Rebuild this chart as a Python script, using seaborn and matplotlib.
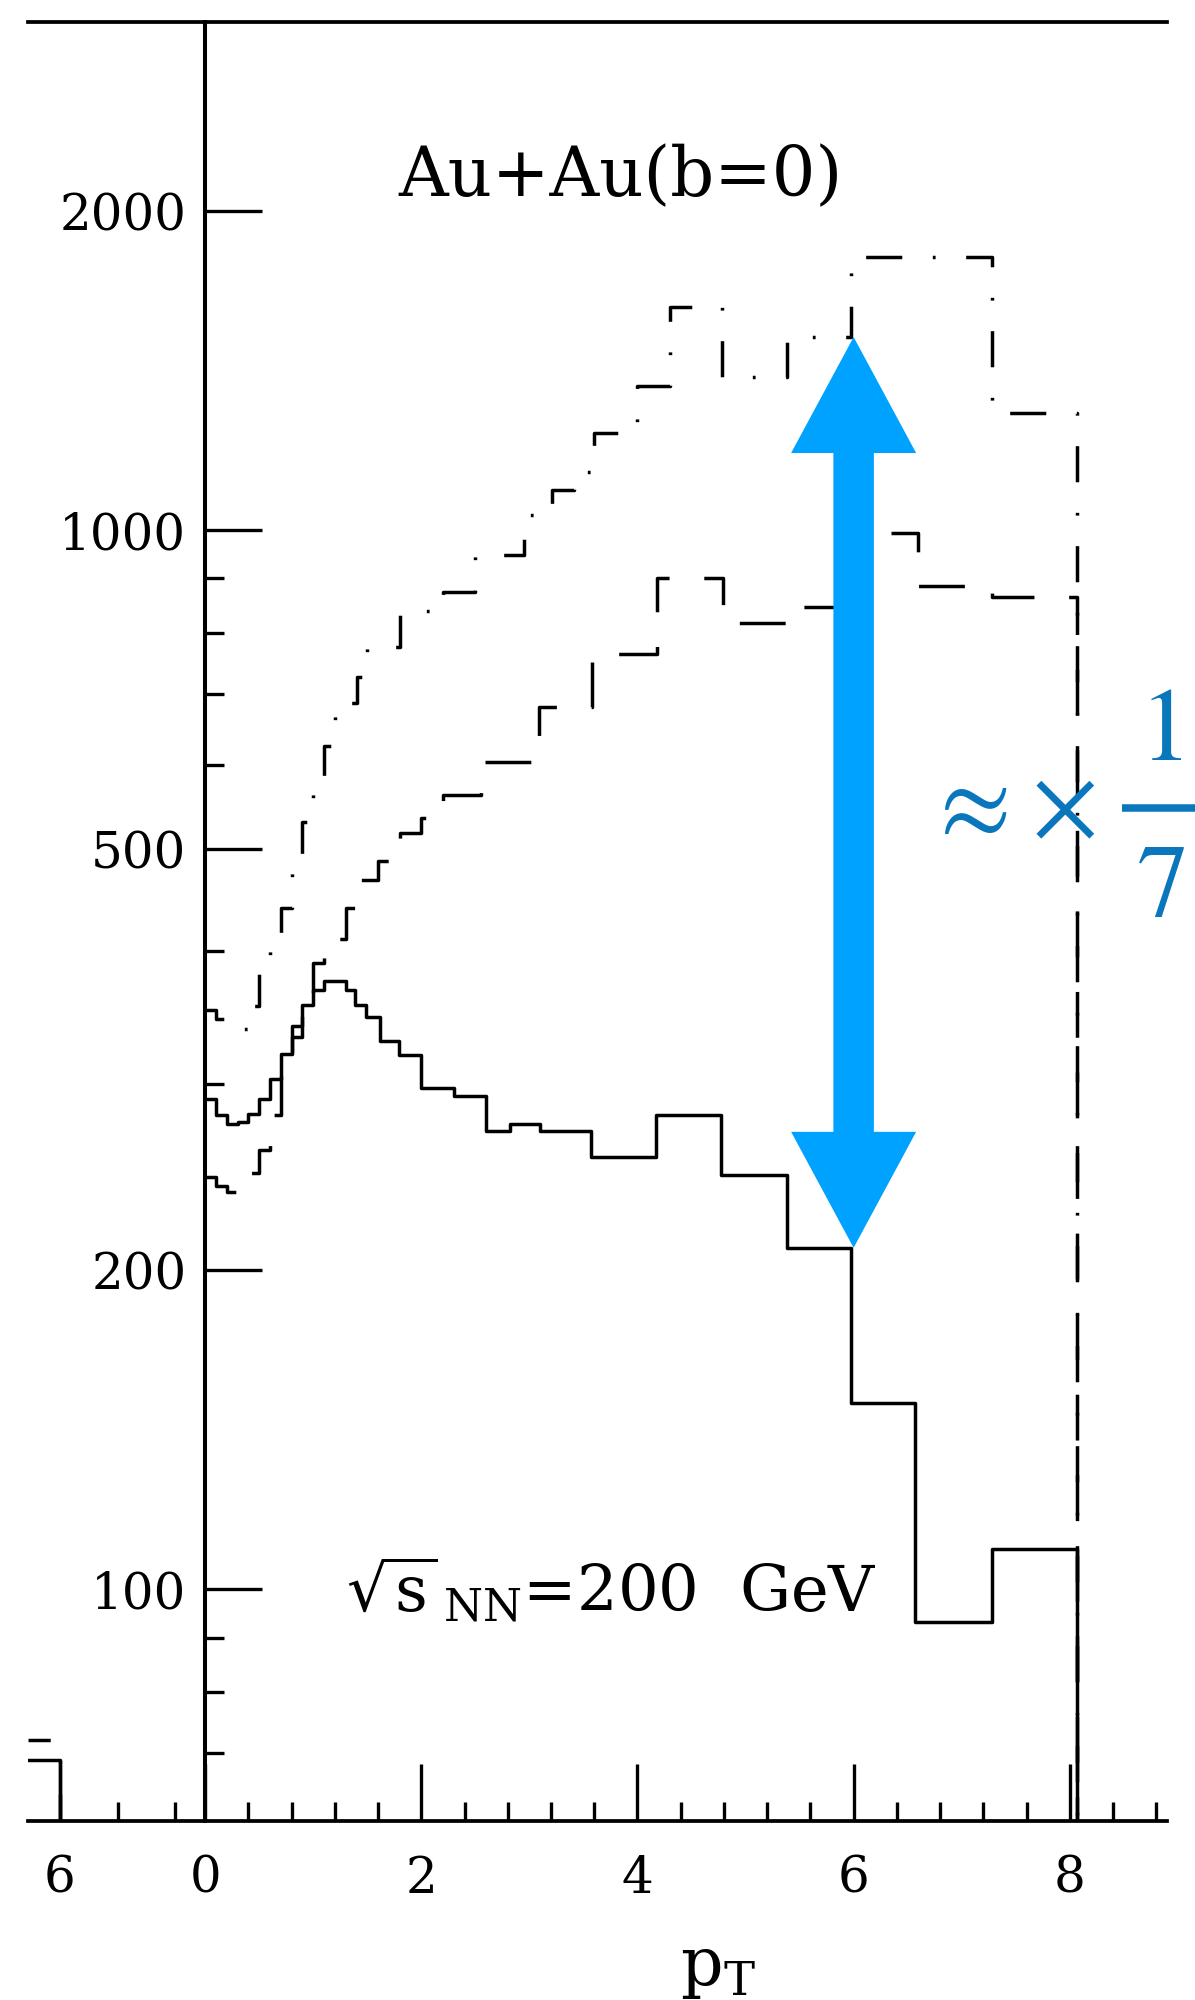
import matplotlib
matplotlib.use("Agg")
import matplotlib.pyplot as plt
from matplotlib.lines import Line2D
import numpy as np
import pandas as pd
import seaborn as sns
from matplotlib.patches import FancyArrowPatch, ArrowStyle
from matplotlib.ticker import FixedLocator, FixedFormatter, NullFormatter

# ---------------------------------------------------------------------------
# Histogram bin edges (p_T) and contents
# ---------------------------------------------------------------------------
solid_edges = [0.0, 0.1, 0.2, 0.3, 0.4, 0.5, 0.6, 0.7, 0.8, 0.9, 1.0, 1.1, 1.3,
               1.39, 1.49, 1.62, 1.79, 2.0, 2.3, 2.6, 2.82, 3.1, 3.57, 4.17,
               4.77, 5.38, 5.98, 6.57, 7.28, 8.07]
solid_vals = [290, 280, 275, 276, 281, 290, 303, 320, 340, 356, 368, 375,
              368, 356, 347, 329, 319, 297, 292, 271, 275, 271, 256, 280,
              246, 210, 150, 93, 109]

dashed_edges = [0.0, 0.1, 0.2, 0.3, 0.4, 0.5, 0.6, 0.7, 0.8, 0.9, 1.0, 1.1, 1.3,
                1.4, 1.6, 1.8, 2.0, 2.2, 2.55, 3.09, 3.58, 4.18, 4.79, 5.38,
                5.98, 6.6, 7.28, 8.07]
dashed_vals = [245, 240, 237, 240, 247, 260, 280, 305, 332, 360, 390, 411,
               440, 467, 487, 518, 535, 562, 604, 681, 764, 901, 817, 846,
               994, 886, 865]

dashdot_edges = [0.0, 0.1, 0.2, 0.3, 0.4, 0.5, 0.6, 0.7, 0.8, 0.9, 1.0, 1.1, 1.2,
                 1.4, 1.5, 1.8, 2.2, 2.5, 2.95, 3.21, 3.41, 3.6, 4.0, 4.3, 4.78,
                 5.38, 5.98, 7.28, 8.07]
dashdot_vals = [352, 345, 338, 338, 355, 385, 410, 440, 490, 530, 580, 625,
                686, 727, 775, 838, 874, 947, 1033, 1091, 1135, 1235, 1368,
                1625, 1394, 1521, 1811, 1289]

# tail of the neighbouring panel visible at the left edge
left_edges = [-1.64, -1.348]
left_solid_vals = [69]
left_dashdot_vals = [72]

# axis ticks
x_major_ticks = [-1.348, 0, 2, 4, 6, 8]
x_major_labels = ["6", "0", "2", "4", "6", "8"]
x_minor_ticks = [-0.81, -0.277] + [0.4 * k for k in range(1, 23) if k % 5 != 0]
y_major_ticks = [100, 200, 500, 1000, 2000]
y_major_labels = ["100", "200", "500", "1000", "2000"]
y_minor_ticks = [70, 80, 90, 300, 400, 600, 700, 800, 900]

# suppression arrow drawn between the two curves at this p_T
arrow_pt = 6.0
arrow_low = solid_vals[solid_edges.index(5.38)]
arrow_high = dashdot_vals[dashdot_edges.index(5.38)]

Y_MIN, Y_MAX = 60.4, 3017
X_MIN, X_MAX = -1.64, 8.9

# ---------------------------------------------------------------------------
sns.set_style("white")
plt.rcParams["font.family"] = ["DejaVu Serif"]
plt.rcParams["mathtext.fontset"] = "dejavuserif"
plt.rcParams["lines.scale_dashes"] = False

fig = plt.figure(figsize=(11.95, 20), dpi=100)
fig.patch.set_facecolor("white")
ax = fig.add_axes([0.0234, 0.0895, 0.9532, 0.8995])
ax.set_facecolor("white")
ax.set_yscale("log")


def step_frame(edges, vals, floor=Y_MIN):
    x = list(edges) + [edges[-1]]
    y = list(vals) + [vals[-1], floor * 0.5]
    return pd.DataFrame({"pt": x, "n": y})


LW = 2.5
line_kw = dict(x="pt", y="n", estimator=None, sort=False,
               drawstyle="steps-post", color="black", lw=LW, ax=ax)

sns.lineplot(data=step_frame(solid_edges, solid_vals), linestyle="-", **line_kw)
sns.lineplot(data=step_frame(dashed_edges, dashed_vals),
             linestyle=(0, (33, 25)), **line_kw)
sns.lineplot(data=step_frame(dashdot_edges, dashdot_vals),
             linestyle=(6, (26, 22, 2, 22)), **line_kw)

sns.lineplot(data=step_frame(left_edges, left_solid_vals), linestyle="-", **line_kw)
sns.lineplot(data=step_frame(left_edges, left_dashdot_vals),
             linestyle=(10, (26, 22, 2, 22)), **line_kw)

ax.set_xlim(X_MIN, X_MAX)
ax.set_ylim(Y_MIN, Y_MAX)

# frame: top and bottom lines, vertical axis at p_T = 0
for side in ("top", "bottom"):
    ax.spines[side].set_visible(True)
    ax.spines[side].set_linewidth(2.7)
    ax.spines[side].set_color("black")
ax.spines["right"].set_visible(False)
ax.spines["left"].set_position(("data", 0))
ax.spines["left"].set_linewidth(2.9)
ax.spines["left"].set_color("black")

ax.xaxis.set_major_locator(FixedLocator(x_major_ticks))
ax.xaxis.set_major_formatter(FixedFormatter(x_major_labels))
ax.xaxis.set_minor_locator(FixedLocator(x_minor_ticks))
ax.xaxis.set_minor_formatter(NullFormatter())
ax.yaxis.set_major_locator(FixedLocator(y_major_ticks))
ax.yaxis.set_major_formatter(FixedFormatter(y_major_labels))
ax.yaxis.set_minor_locator(FixedLocator(y_minor_ticks))
ax.yaxis.set_minor_formatter(NullFormatter())

ax.tick_params(axis="both", which="major", direction="in", length=41, width=2.4,
               color="black", labelcolor="black", labelsize=36)
ax.tick_params(axis="both", which="minor", direction="in", length=14, width=2.4,
               color="black")
ax.tick_params(axis="x", which="both", bottom=True, top=False, pad=24)
ax.tick_params(axis="y", which="both", left=True, right=False, pad=13.5)

ax.set_xlabel(r"$\mathrm{p}_{\mathrm{T}}$", fontsize=48, color="black")
ax.xaxis.set_label_coords(0.606, -0.064)
ax.set_ylabel("")

ax.text(0.520, 0.9033, "Au+Au(b=0)", transform=ax.transAxes, ha="center",
        va="baseline", fontsize=49.5, color="black")
ax.text(0.2792, 0.1156, r"$\sqrt{\mathrm{s}}_{\,\mathrm{NN}}$=200  GeV",
        transform=ax.transAxes, ha="left", va="baseline", fontsize=46,
        color="black")

# double-headed suppression arrow: two single-headed arrows whose shafts
# coincide over the whole span between the two arrowheads
arrow_blue = "#00A2FF"
head_len_pt = 83.5
style = ArrowStyle.Simple(head_length=head_len_pt, head_width=90, tail_width=28.8)
head_len_px = head_len_pt * fig.dpi / 72.0
to_data = ax.transData.inverted()
x_disp, y_low_disp = ax.transData.transform((arrow_pt, arrow_low))
_, y_high_disp = ax.transData.transform((arrow_pt, arrow_high))
base_low = to_data.transform((x_disp, y_low_disp + head_len_px - 2))[1]
base_high = to_data.transform((x_disp, y_high_disp - head_len_px + 2))[1]
for start, tip in ((base_low, arrow_high), (base_high, arrow_low)):
    ax.add_patch(FancyArrowPatch((arrow_pt, start), (arrow_pt, tip),
                                 arrowstyle=style, mutation_scale=1,
                                 shrinkA=0, shrinkB=0, linewidth=0,
                                 facecolor=arrow_blue, edgecolor="none",
                                 zorder=5))

# "approximately times one seventh" label
ratio_blue = "#0A77BD"
ratio_kw = dict(fontsize=75, color=ratio_blue, math_fontfamily="stix")
fig.text(0.808, 0.5965, r"$\approx$", ha="center", va="center", **ratio_kw)
fig.text(0.890, 0.5965, r"$\times$", ha="center", va="center", **ratio_kw)
fig.text(0.971, 0.620, r"$1$", ha="center", va="baseline", **ratio_kw)
fig.text(0.971, 0.542, r"$7$", ha="center", va="baseline", **ratio_kw)
fig.add_artist(Line2D([0.939, 1.0], [0.596, 0.596], transform=fig.transFigure,
                      color=ratio_blue, lw=5.4, solid_capstyle="butt"))

fig.savefig("out.png", dpi=100, facecolor="white")
